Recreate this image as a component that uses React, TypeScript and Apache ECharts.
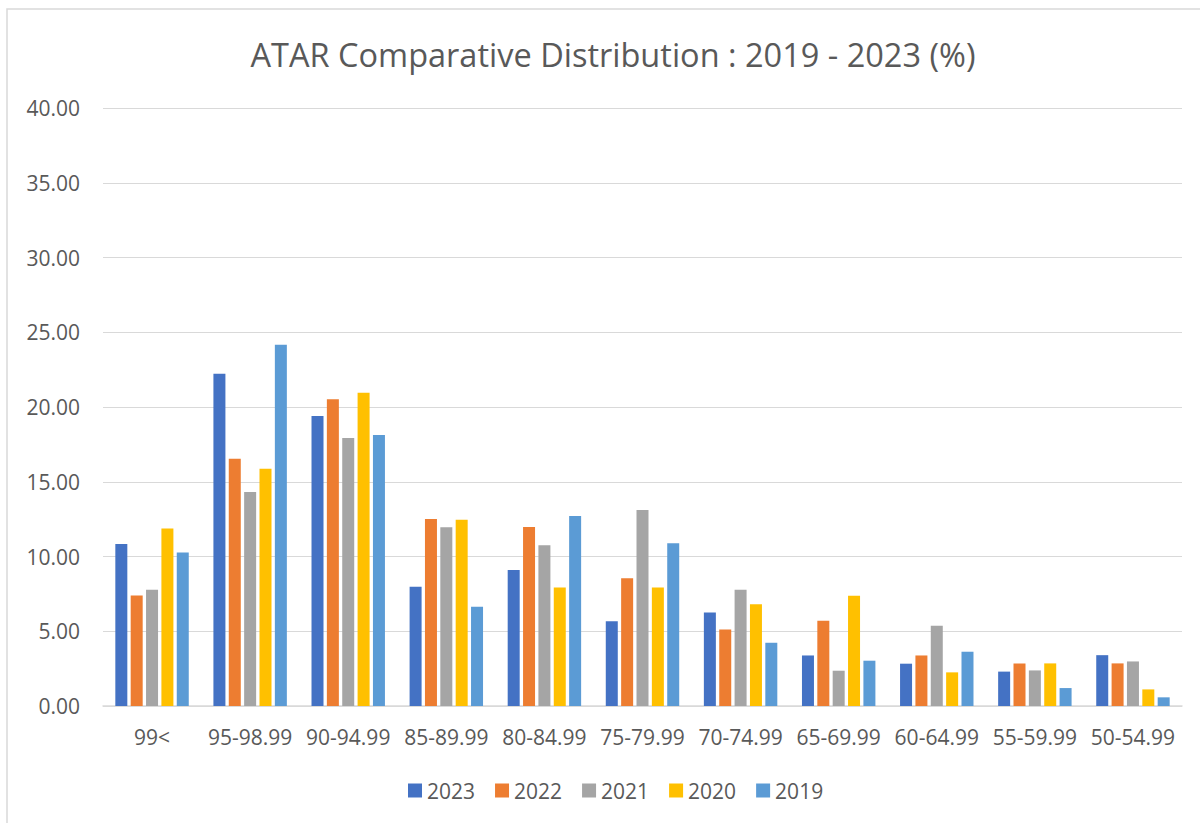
import React, { useEffect, useRef } from "react";
import * as echarts from "echarts";

const categories = ["99<", "95-98.99", "90-94.99", "85-89.99", "80-84.99", "75-79.99", "70-74.99", "65-69.99", "60-64.99", "55-59.99", "50-54.99"];
const y2023 = [10.84, 22.23, 19.39, 7.97, 9.1, 5.67, 6.25, 3.38, 2.83, 2.3, 3.4];
const y2022 = [7.39, 16.54, 20.52, 12.51, 11.97, 8.54, 5.12, 5.7, 3.38, 2.85, 2.85];
const y2021 = [7.77, 14.31, 17.92, 11.95, 10.75, 13.11, 7.77, 2.36, 5.37, 2.38, 2.98];
const y2020 = [11.88, 15.87, 20.96, 12.46, 7.92, 7.92, 6.81, 7.37, 2.25, 2.85, 1.11];
const y2019 = [10.26, 24.17, 18.12, 6.64, 12.71, 10.88, 4.23, 3.03, 3.63, 1.2, 0.58];
const seriesNames = ["2023", "2022", "2021", "2020", "2019"];
const seriesData = [y2023, y2022, y2021, y2020, y2019];
const colors = ["#4472C4", "#ED7D31", "#A5A5A5", "#FFC000", "#5B9BD5"];
const title = "ATAR Comparative Distribution : 2019 - 2023 (%)";

export default function App() {
  const ref = useRef<HTMLDivElement>(null);
  useEffect(() => {
    if (!ref.current) return;
    const chart = echarts.init(ref.current, null, { renderer: "svg" });
    const font = "'Open Sans', sans-serif";
    chart.setOption({
      animation: false,
      backgroundColor: "#ffffff",
      color: colors,
      title: {
        text: title,
        left: 608,
        top: 33,
        textAlign: "center",
        textStyle: { fontFamily: font, fontSize: 32.5, fontWeight: "normal", color: "#595959" },
      },
      graphic: [
        {
          type: "rect",
          shape: { x: 7, y: 9, width: 1300, height: 900 },
          style: { fill: "none", stroke: "#D9D9D9", lineWidth: 1.5 },
          silent: true,
        },
      ],
      legend: {
        data: seriesNames,
        left: 403,
        top: 775,
        itemWidth: 14,
        itemHeight: 14,
        itemGap: 20,
        icon: "rect",
        textStyle: { fontFamily: font, fontSize: 21, color: "#595959" },
      },
      grid: { left: 103, right: 18, top: 108, bottom: 117, containLabel: false },
      xAxis: {
        type: "category",
        data: categories,
        axisTick: { show: false },
        axisLine: { lineStyle: { color: "#D9D9D9", width: 1.5 } },
        axisLabel: { fontFamily: font, fontSize: 21, color: "#595959", margin: 20, interval: 0 },
      },
      yAxis: {
        type: "value",
        min: 0,
        max: 40,
        interval: 5,
        axisLine: { show: false },
        axisTick: { show: false },
        splitLine: { lineStyle: { color: "#D9D9D9", width: 1.2 } },
        axisLabel: {
          fontFamily: font,
          fontSize: 21,
          color: "#595959",
          margin: 23,
          formatter: (v: number) => v.toFixed(2),
        },
      },
      series: seriesNames.map((name, i) => ({
        name,
        type: "bar",
        data: seriesData[i],
        barWidth: 12,
        barGap: "28%",
        itemStyle: { color: colors[i] },
      })),
    });
    return () => chart.dispose();
  }, []);
  return (
    <div
      ref={ref}
      style={{ position: "fixed", left: 0, top: 0, width: 1200, height: 823 }}
    />
  );
}
